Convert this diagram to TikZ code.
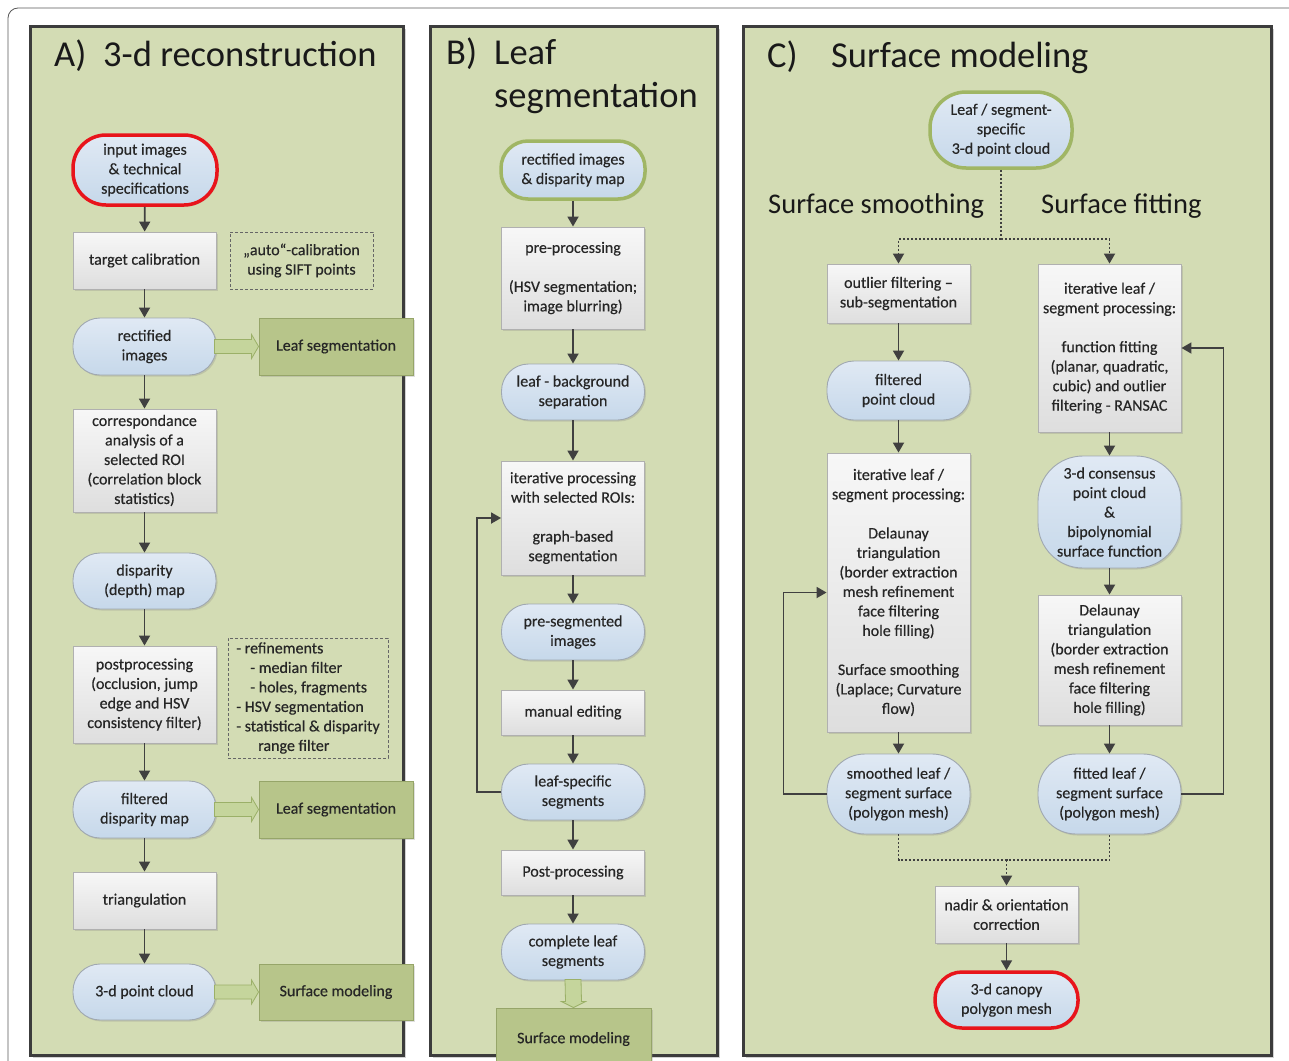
\documentclass[tikz,border=0pt]{standalone}
\usepackage{fontspec}
\setmainfont{Carlito}
\newfontfamily\bodyfont{Carlito}[FakeBold=0.4]
\usetikzlibrary{arrows.meta,shadows,calc}
\definecolor{panelfill}{RGB}{211,220,180}
\definecolor{panelborder}{RGB}{60,60,60}
\definecolor{gboxfill}{RGB}{183,197,138}
\definecolor{gboxdraw}{RGB}{150,165,105}
\definecolor{barrowfill}{RGB}{197,213,156}
\definecolor{barrowdraw}{RGB}{155,176,104}
\definecolor{termtop}{RGB}{224,233,244}
\definecolor{termbot}{RGB}{198,216,234}
\definecolor{termdraw}{RGB}{160,168,176}
\definecolor{proctop}{RGB}{247,247,247}
\definecolor{procbot}{RGB}{222,222,222}
\definecolor{procdraw}{RGB}{176,176,176}
\definecolor{txt}{RGB}{38,38,38}
\definecolor{arrowcol}{RGB}{64,64,64}
\definecolor{redline}{RGB}{232,20,27}
\definecolor{greenline}{RGB}{160,182,100}
\newcommand{\hblockarrow}[2]{%
  \filldraw[blockarrow] ($(#1.east)+(-2,-7)$) -- ($(#2.west)+(-7,-7)$) -- ($(#2.west)+(-7,-12)$) -- (#2.west) -- ($(#2.west)+(-7,12)$) -- ($(#2.west)+(-7,7)$) -- ($(#1.east)+(-2,7)$) -- cycle;}
\newcommand{\vblockarrow}[2]{%
  \filldraw[blockarrow] ($(#1.south)+(-8,-1)$) -- ($(#2.north)+(-8,-6)$) -- ($(#2.north)+(-12,-6)$) -- (#2.north) -- ($(#2.north)+(12,-6)$) -- ($(#2.north)+(8,-6)$) -- ($(#1.south)+(8,-1)$) -- cycle;}
\begin{document}
\begin{tikzpicture}[x=1pt,y=-1pt,
  base/.style={align=center, font=\bodyfont\fontsize{16}{19.5}\selectfont, text=txt, inner sep=1pt, line width=0.9pt},
  term/.style={base, draw=termdraw, top color=termtop, bottom color=termbot, minimum width=143pt, minimum height=57pt, rounded corners=27pt,
    drop shadow={shadow xshift=1.5pt, shadow yshift=-1.5pt, opacity=0.25}},
  proc/.style={base, draw=procdraw, top color=proctop, bottom color=procbot, minimum width=143pt, minimum height=57pt,
    drop shadow={shadow xshift=1.5pt, shadow yshift=-1.5pt, opacity=0.25}},
  gbox/.style={base, draw=gboxdraw, fill=gboxfill, minimum width=154pt, minimum height=57pt,
    drop shadow={shadow xshift=1.5pt, shadow yshift=-1.5pt, opacity=0.25}},
  note/.style={base, draw=gray!80!black, dashed, dash pattern=on 3pt off 2pt, line width=0.8pt, minimum width=143pt, minimum height=57pt},
  panel/.style={draw=panelborder, line width=3pt, fill=panelfill,
    drop shadow={shadow xshift=3pt, shadow yshift=-3pt, opacity=0.35}},
  redterm/.style={draw=redline, line width=3.5pt},
  greenterm/.style={draw=greenline, line width=3.5pt},
  arr/.style={draw=arrowcol, line width=1.8pt, -{Triangle[length=10pt,width=11pt]}},
  dotline/.style={draw=arrowcol, line width=1.8pt, dash pattern=on 2pt off 2pt},
  blockarrow/.style={fill=barrowfill, draw=barrowdraw, line width=0.8pt},
  title/.style={font=\fontsize{36.5}{40}\selectfont, text=black!90, inner sep=0pt},
  subtitle/.style={font=\fontsize{28.5}{32}\selectfont, text=black!90, inner sep=0pt}
]
\useasboundingbox (0,0) rectangle (1289,1060);
\begin{scope}
\clip (0,0) rectangle (1289,1060);
\fill[white] (0,0) rectangle (1289,1060);
\draw[gray!70!black, line width=0.8pt, rounded corners=10pt] (8,1070) -- (8,8) -- (1300,8);

% panels
\node[panel, minimum width=373pt, minimum height=1029pt] (pA) at (216.5,540.5) {};
\node[panel, minimum width=287pt, minimum height=1029pt] (pB) at (573.5,540.5) {};
\node[panel, minimum width=528pt, minimum height=1029pt] (pC) at (1007,540.5) {};

% titles
\node[title, anchor=base west] (tA1) at (54,66) {A)};
\node[title, anchor=base west] (tA2) at (103,66) {3-d reconstruction};
\node[title, anchor=base west] (tB1) at (446,64) {B)};
\node[title, anchor=base west] (tB2) at (494,64) {Leaf};
\node[title, anchor=base west] (tB3) at (494,107) {segmentation};
\node[title, anchor=base west] (tC1) at (767,67) {C)};
\node[title, anchor=base west] (tC2) at (831,67) {Surface modeling};
\node[subtitle, anchor=base west] (tCs) at (768,213) {Surface smoothing};
\node[subtitle, anchor=base west] (tCf) at (1041,213) {Surface fitting};

% ---------- Panel A ----------
\node[term, redterm, minimum width=144pt, minimum height=70pt, rounded corners=33pt] (inA) at (145,170) {input images\\\& technical\\specifications};
\node[proc] (tcal) at (144.5,260.5) {target calibration};
\node[note] (autocal) at (301.5,260.5) {„auto“-calibration\\using SIFT points};
\node[term] (rectA) at (144.5,346.5) {rectified\\images};
\node[gbox] (lsegA1) at (336,346.5) {Leaf segmentation};
\node[proc, minimum height=103pt] (corr) at (144.5,460.5) {correspondance\\analysis of a\\selected ROI\\(correlation block\\statistics)};
\node[term, minimum height=56pt] (disp) at (144.5,581) {disparity\\(depth) map};
\node[proc, minimum height=97pt] (postA) at (144.5,694.5) {postprocessing\\(occlusion, jump\\edge and HSV\\consistency filter)};
\node[note, align=left, minimum width=160pt, minimum height=120pt] (refine) at (308,698) {- refinements\\\hspace*{14pt}- median filter\\\hspace*{14pt}- holes, fragments\\- HSV segmentation\\- statistical \& disparity\\\hspace*{22pt}range filter};
\node[term] (fdisp) at (144.5,809.5) {filtered\\disparity map};
\node[gbox] (lsegA2) at (336,809.5) {Leaf segmentation};
\node[proc] (tri) at (144.5,900.5) {triangulation};
\node[term, minimum height=56pt] (pcA) at (144.5,992) {3-d point cloud};
\node[gbox, minimum height=56pt] (smA) at (336,992) {Surface modeling};

\draw[arr] (inA) -- (tcal);
\draw[arr] (tcal) -- (rectA);
\draw[arr] (rectA) -- (corr);
\draw[arr] (corr) -- (disp);
\draw[arr] (disp) -- (postA);
\draw[arr] (postA) -- (fdisp);
\draw[arr] (fdisp) -- (tri);
\draw[arr] (tri) -- (pcA);
\hblockarrow{rectA}{lsegA1}
\hblockarrow{fdisp}{lsegA2}
\hblockarrow{pcA}{smA}

% ---------- Panel B ----------
\node[term, greenterm, minimum width=144pt, minimum height=58pt] (rdm) at (573,170) {rectified images\\\& disparity map};
\node[proc, minimum height=102pt] (prep) at (573,278) {pre-processing\\[19.5pt](HSV segmentation;\\image blurring)};
\node[term, minimum height=56pt] (lbs) at (573,392) {leaf - background\\separation};
\node[proc, minimum height=114pt] (iterB) at (573,518) {iterative processing\\with selected ROIs:\\[19.5pt]graph-based\\segmentation};
\node[term, minimum height=56pt] (preseg) at (573,632) {pre-segmented\\images};
\node[proc, minimum height=45pt] (manual) at (573,712.5) {manual editing};
\node[term, minimum height=56pt] (lss) at (573,792) {leaf-specific\\segments};
\node[proc, minimum height=45pt] (postB) at (573,872.5) {Post-processing};
\node[term, minimum height=56pt] (cls) at (573,952) {complete leaf\\segments};
\node[gbox, minimum width=155pt, minimum height=62pt] (smB) at (573.5,1039) {Surface modeling};

\draw[arr] (rdm) -- (prep);
\draw[arr] (prep) -- (lbs);
\draw[arr] (lbs) -- (iterB);
\draw[arr] (iterB) -- (preseg);
\draw[arr] (preseg) -- (manual);
\draw[arr] (manual) -- (lss);
\draw[arr] (lss) -- (postB);
\draw[arr] (postB) -- (cls);
\draw[arr] (lss.west) -- ++(-24,0) |- (iterB.west);
\vblockarrow{cls}{smB}

% ---------- Panel C ----------
\node[term, greenterm, minimum width=142pt, minimum height=76pt, rounded corners=36pt] (lsc) at (1001,130) {Leaf / segment-\\specific\\3-d point cloud};
\node[proc, minimum height=59pt] (outl) at (898.5,293.5) {outlier filtering –\\sub-segmentation};
\node[proc, minimum height=168pt] (iterF) at (1109.5,348) {iterative leaf /\\segment processing:\\[19.5pt]function fitting\\(planar, quadratic,\\cubic) and outlier\\filtering - RANSAC};
\node[term, minimum height=59pt] (fpc) at (898.5,390.5) {filtered\\point cloud};
\node[proc, minimum height=279pt] (iterS) at (898.5,592.5) {iterative leaf /\\segment processing:\\[19.5pt]Delaunay\\triangulation\\(border extraction\\mesh refinement\\face filtering\\hole filling)\\[19.5pt]Surface smoothing\\(Laplace; Curvature\\flow)};
\node[term, minimum height=112pt, rounded corners=45pt] (cons) at (1109.5,512) {3-d consensus\\point cloud\\\&\\bipolynomial\\surface function};
\node[proc, minimum height=130pt] (delR) at (1109.5,660) {Delaunay\\triangulation\\(border extraction\\mesh refinement\\face filtering\\hole filling)};
\node[term, minimum height=80pt, rounded corners=38pt] (smoothed) at (898.5,794) {smoothed leaf /\\segment surface\\(polygon mesh)};
\node[term, minimum height=80pt, rounded corners=38pt] (fitted) at (1109.5,794) {fitted leaf /\\segment surface\\(polygon mesh)};
\node[proc] (nadir) at (1006.5,914.5) {nadir \& orientation\\correction};
\node[term, redterm, minimum height=56pt] (canopy) at (1006.5,1000) {3-d canopy\\polygon mesh};

\draw[dotline] (lsc.south) -- (1001,239) coordinate (splitC);
\draw[dotline, -{Triangle[length=10pt,width=11pt]}] (splitC) -| (outl.north);
\draw[dotline, -{Triangle[length=10pt,width=11pt]}] (splitC) -| (iterF.north);
\draw[arr] (outl) -- (fpc);
\draw[arr] (fpc) -- (iterS);
\draw[arr] (iterS) -- (smoothed);
\draw[arr] (iterF) -- (cons);
\draw[arr] (cons) -- (delR);
\draw[arr] (delR) -- (fitted);
\draw[arr] (smoothed.west) -- ++(-43,0) |- (iterS.west);
\draw[arr] (fitted.east) -- ++(42,0) |- (iterF.east);
\draw[dotline] (smoothed.south) |- (1006.5,860) coordinate (joinC) -| (fitted.south);
\draw[dotline, -{Triangle[length=10pt,width=11pt]}] (joinC) -- (nadir.north);
\draw[arr] (nadir) -- (canopy);
\end{scope}
\end{tikzpicture}
\end{document}
